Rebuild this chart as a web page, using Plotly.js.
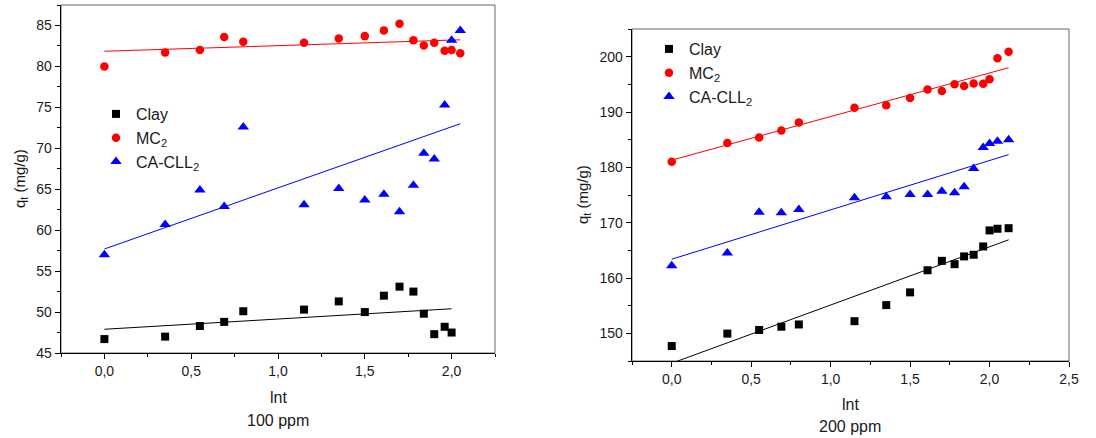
<!DOCTYPE html>
<html><head><meta charset="utf-8">
<script src="https://cdn.plot.ly/plotly-3.0.1.min.js"></script>
<style>html,body{margin:0;padding:0;background:#fff}#c{width:1096px;height:438px}</style>
</head><body><div id="c"></div>
<script>
// ---- data ----
const x100 = [0, 0.35, 0.55, 0.69, 0.80, 1.15, 1.35, 1.50, 1.61, 1.70, 1.78, 1.84, 1.90, 1.96, 2.00, 2.05];
const clay100 = [46.7, 47.0, 48.3, 48.8, 50.1, 50.3, 51.3, 50.0, 52.0, 53.1, 52.5, 49.8, 47.3, 48.2, 47.5];
const mc100 = [80.0, 81.7, 82.0, 83.6, 83.0, 82.9, 83.4, 83.7, 84.4, 85.2, 83.2, 82.55, 82.9, 81.9, 82.0, 81.6];
const ca100 = [57.0, 60.7, 64.9, 62.9, 72.6, 63.1, 65.1, 63.7, 64.4, 62.25, 65.5, 69.4, 68.7, 75.3, 83.2, 84.4];

const x200 = [0, 0.35, 0.55, 0.69, 0.80, 1.15, 1.35, 1.50, 1.61, 1.70, 1.78, 1.84, 1.90, 1.96, 2.00, 2.05, 2.12];
const clay200 = [147.7, 149.95, 150.6, 151.2, 151.6, 152.2, 155.1, 157.4, 161.4, 163.1, 162.5, 163.9, 164.2, 165.7, 168.6, 168.9, 169.0];
const mc200 = [181.0, 184.4, 185.4, 186.65, 188.1, 190.75, 191.2, 192.55, 194.07, 193.8, 195.0, 194.7, 195.15, 195.1, 195.9, 199.7, 200.9];
const ca200 = [162.2, 164.5, 171.9, 171.8, 172.4, 174.5, 174.7, 175.1, 175.1, 175.7, 175.4, 176.5, 179.8, 183.6, 184.3, 184.7, 185.0];

// linear fit lines: [value at first x, value at last x]
const fitClay100 = [47.9, 50.4];
const fitMc100 = [81.85, 83.25];
const fitCa100 = [57.7, 73.0];
const fitClay200 = [144.6, 166.9];
const fitMc200 = [181.3, 198.0];
const fitCa200 = [163.4, 182.3];

const seriesNames = ['Clay', 'MC<sub>2</sub>', 'CA-CLL<sub>2</sub>'];
const colors = ['#000000', '#ff0000', '#0000ff'];
const symbols = ['square', 'circle', 'triangle-up'];
const sizes = [8, 8.5, 10];

function pts(x, y, i, xa, ya, leg, show) {
  return {x: x.slice(0, y.length), y: y, type: 'scatter', mode: 'markers', name: seriesNames[i],
    xaxis: xa, yaxis: ya, legend: leg, showlegend: show,
    marker: {symbol: symbols[i], color: colors[i], size: sizes[i], line: {width: 0}}};
}
function fit(x, y, f, i, xa, ya) {
  const xs = x.slice(0, y.length);
  return {x: [xs[0], xs[xs.length - 1]], y: f, type: 'scatter', mode: 'lines', showlegend: false,
    xaxis: xa, yaxis: ya, line: {color: colors[i], width: 1}, hoverinfo: 'skip'};
}

const data = [
  fit(x100, clay100, fitClay100, 0, 'x', 'y'),
  fit(x100, mc100, fitMc100, 1, 'x', 'y'),
  fit(x100, ca100, fitCa100, 2, 'x', 'y'),
  pts(x100, clay100, 0, 'x', 'y', 'legend', true),
  pts(x100, mc100, 1, 'x', 'y', 'legend', true),
  pts(x100, ca100, 2, 'x', 'y', 'legend', true),
  fit(x200, clay200, fitClay200, 0, 'x2', 'y2'),
  fit(x200, mc200, fitMc200, 1, 'x2', 'y2'),
  fit(x200, ca200, fitCa200, 2, 'x2', 'y2'),
  pts(x200, clay200, 0, 'x2', 'y2', 'legend2', true),
  pts(x200, mc200, 1, 'x2', 'y2', 'legend2', true),
  pts(x200, ca200, 2, 'x2', 'y2', 'legend2', true)
];

const W = 1096, H = 438;
const px = v => v / W, py = v => 1 - v / H;
const FAM = 'Liberation Sans, Arial, sans-serif';
const TXT = '#1a1a1a';
const font = {family: FAM, size: 14, color: TXT};

function xaxis(dom, range, anchor) {
  return {domain: dom, range: range, anchor: anchor, dtick: 0.5, tick0: 0, tickformat: '.1f',
    ticks: 'outside', ticklen: 5, tickwidth: 1, tickcolor: '#000', showgrid: false, zeroline: false,
    showline: true, linecolor: '#000', linewidth: 1.3, mirror: false,
    minor: {ticks: 'outside', ticklen: 3, dtick: 0.25, tickcolor: '#000', showgrid: false},
    tickfont: {family: FAM, size: 14, color: TXT}};
}
function yaxis(dom, range, anchor, dt) {
  return {domain: dom, range: range, anchor: anchor, dtick: dt, tick0: 0,
    ticks: 'outside', ticklen: 5, tickwidth: 1, tickcolor: '#000', showgrid: false, zeroline: false,
    showline: true, linecolor: '#000', linewidth: 1.3, mirror: false,
    minor: {ticks: 'outside', ticklen: 3, dtick: dt / 2, tickcolor: '#000', showgrid: false},
    tickfont: {family: FAM, size: 14, color: TXT}};
}

function ann(text, x, y, size, angle) {
  return {text: text, xref: 'paper', yref: 'paper', x: px(x), y: py(y), showarrow: false,
    textangle: angle || 0, font: {family: FAM, size: size, color: TXT}, xanchor: 'center', yanchor: 'middle'};
}

const layout = {
  width: W, height: H, margin: {l: 0, r: 0, t: 0, b: 0},
  paper_bgcolor: '#fff', plot_bgcolor: '#fff', font: font, separators: ',.',
  xaxis: xaxis([px(61), px(495)], [-0.25, 2.25], 'y'),
  yaxis: yaxis([py(353), py(5)], [45, 87.5], 'x', 5),
  xaxis2: xaxis([px(632), px(1069)], [-0.25, 2.5], 'y2'),
  yaxis2: yaxis([py(361), py(29)], [145, 205], 'x2', 10),
  legend: {x: px(96), y: py(97), xanchor: 'left', yanchor: 'top', bgcolor: 'rgba(0,0,0,0)',
    font: {family: FAM, size: 16, color: TXT}, tracegroupgap: 0, itemwidth: 30},
  legend2: {x: px(649), y: py(32), xanchor: 'left', yanchor: 'top', bgcolor: 'rgba(0,0,0,0)',
    font: {family: FAM, size: 16, color: TXT}, tracegroupgap: 0, itemwidth: 30},
  shapes: [
    {type: 'rect', xref: 'paper', yref: 'paper', x0: px(61), x1: px(495), y0: py(353), y1: py(5),
      line: {color: '#666', width: 1}, layer: 'below'},
    {type: 'rect', xref: 'paper', yref: 'paper', x0: px(632), x1: px(1069), y0: py(361), y1: py(29),
      line: {color: '#666', width: 1}, layer: 'below'}
  ],
  annotations: [
    ann('lnt', 278, 397, 16),
    ann('100 ppm', 278, 420, 16),
    ann('lnt', 850, 404, 16),
    ann('200 ppm', 850, 426, 16),
    ann('q<sub>t</sub> (mg/g)', 20, 179, 15, -90),
    ann('q<sub>t</sub> (mg/g)', 583, 195, 15, -90)
  ]
};

Plotly.newPlot('c', data, layout, {staticPlot: true, displayModeBar: false});
</script></body></html>
